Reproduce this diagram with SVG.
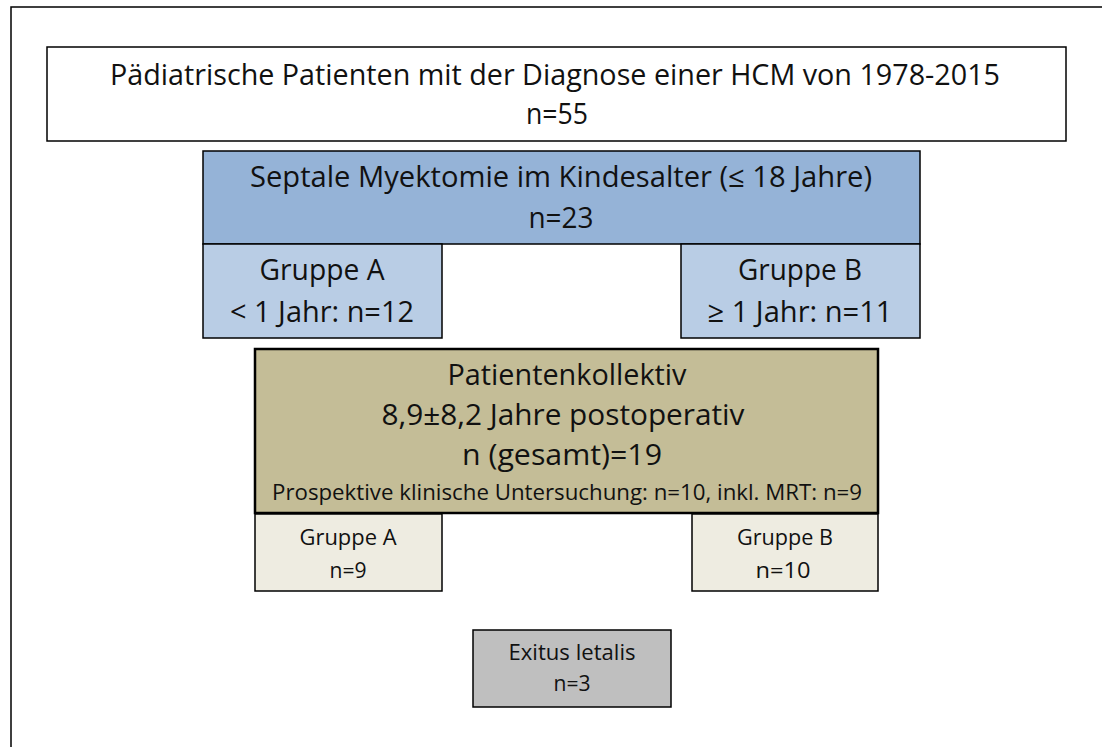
<svg xmlns="http://www.w3.org/2000/svg" width="1102" height="747" viewBox="0 0 1102 747">
<style>
.box{stroke:#000;stroke-width:1.5}
.t{font-family:"Open Sans","Liberation Sans",sans-serif;fill:#111;text-anchor:middle}
.big{font-size:29px}
.sm{font-size:21px}
</style>
<rect x="0" y="0" width="1102" height="747" fill="#fff"/>
<rect id="frame" x="11" y="7" width="1120" height="800" fill="none" stroke="#000" stroke-width="1.5"/>
<g id="connectors"/>
<g id="n-top">
<rect class="box" x="47" y="47" width="1019" height="94" fill="#fff"/>
<text class="t big" x="555" y="85" textLength="890" lengthAdjust="spacingAndGlyphs">Pädiatrische Patienten mit der Diagnose einer HCM von 1978-2015</text>
<text class="t big" x="557" y="124" textLength="62" lengthAdjust="spacingAndGlyphs">n=55</text>
</g>
<g id="n-septal">
<rect class="box" x="203" y="151" width="717" height="93" fill="#95B3D7"/>
<text class="t big" x="561" y="187" textLength="622" lengthAdjust="spacingAndGlyphs">Septale Myektomie im Kindesalter (≤ 18 Jahre)</text>
<text class="t big" x="561" y="228" textLength="65" lengthAdjust="spacingAndGlyphs">n=23</text>
</g>
<g id="n-groupA1">
<rect class="box" x="203" y="244" width="239" height="94" fill="#B9CDE5"/>
<text class="t big" x="322" y="280" textLength="125" lengthAdjust="spacingAndGlyphs">Gruppe A</text>
<text class="t big" x="322" y="322" textLength="184" lengthAdjust="spacingAndGlyphs">&lt; 1 Jahr: n=12</text>
</g>
<g id="n-groupB1">
<rect class="box" x="681" y="244" width="239" height="94" fill="#B9CDE5"/>
<text class="t big" x="800" y="280" textLength="124" lengthAdjust="spacingAndGlyphs">Gruppe B</text>
<text class="t big" x="800" y="322" textLength="185" lengthAdjust="spacingAndGlyphs">≥ 1 Jahr: n=11</text>
</g>
<g id="n-kollektiv">
<rect x="255" y="349" width="623" height="164" fill="#C4BD97" stroke="#000" stroke-width="2.5"/>
<text class="t big" x="567" y="385" textLength="239" lengthAdjust="spacingAndGlyphs">Patientenkollektiv</text>
<text class="t big" x="563" y="425" textLength="363" lengthAdjust="spacingAndGlyphs">8,9±8,2 Jahre postoperativ</text>
<text class="t big" x="562" y="465" textLength="200" lengthAdjust="spacingAndGlyphs">n (gesamt)=19</text>
<text class="t sm" x="567" y="500" textLength="590" lengthAdjust="spacingAndGlyphs">Prospektive klinische Untersuchung: n=10, inkl. MRT: n=9</text>
</g>
<g id="n-groupA2">
<rect class="box" x="255" y="514" width="187" height="77" fill="#EEECE1"/>
<text class="t sm" x="348" y="545" textLength="97" lengthAdjust="spacingAndGlyphs">Gruppe A</text>
<text class="t sm" x="348" y="578" textLength="37" lengthAdjust="spacingAndGlyphs">n=9</text>
</g>
<g id="n-groupB2">
<rect class="box" x="692" y="514" width="186" height="77" fill="#EEECE1"/>
<text class="t sm" x="785" y="545" textLength="96" lengthAdjust="spacingAndGlyphs">Gruppe B</text>
<text class="t sm" x="783" y="578" textLength="55" lengthAdjust="spacingAndGlyphs">n=10</text>
</g>
<g id="n-exitus">
<rect class="box" x="473" y="630" width="198" height="77" fill="#BFBFBF"/>
<text class="t sm" x="572" y="660" textLength="127" lengthAdjust="spacingAndGlyphs">Exitus letalis</text>
<text class="t sm" x="572" y="691" textLength="37" lengthAdjust="spacingAndGlyphs">n=3</text>
</g>
</svg>
